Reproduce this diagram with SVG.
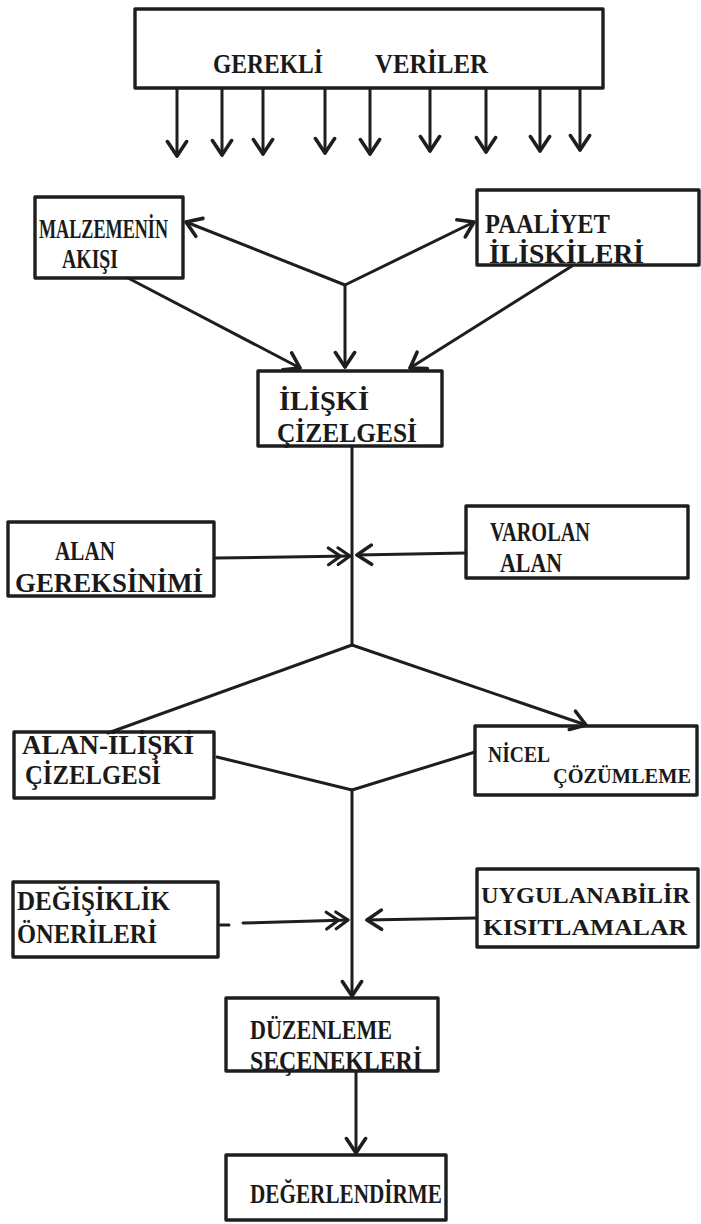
<svg xmlns="http://www.w3.org/2000/svg" width="701" height="1224" viewBox="0 0 701 1224">
<style>
.box{fill:none;stroke:#1e1e1e;stroke-width:3.4;stroke-linejoin:round}
.ln{fill:none;stroke:#1e1e1e;stroke-width:3;stroke-linecap:round}
.t{font-family:"Liberation Serif","DejaVu Serif",serif;font-weight:bold;font-size:28px;fill:#1a1a1a}
.s{font-size:23px}
.xs{font-size:21px}
</style>
<defs>
<marker id="ah" markerUnits="userSpaceOnUse" markerWidth="24" markerHeight="24" viewBox="-14 -10 16 20" refX="0" refY="0" orient="auto">
<path d="M-12,-8 L0,0 L-12,8" fill="none" stroke="#1e1e1e" stroke-width="3" stroke-linecap="round" stroke-linejoin="round"/>
</marker>
<marker id="ah2" markerUnits="userSpaceOnUse" markerWidth="30" markerHeight="24" viewBox="-20 -10 22 20" refX="0" refY="0" orient="auto">
<path d="M-10,-7 L0,0 L-10,7 M-18,-7 L-8,0 L-18,7" fill="none" stroke="#1e1e1e" stroke-width="2.6" stroke-linecap="round" stroke-linejoin="round"/>
</marker>
</defs>
<rect width="701" height="1224" fill="#ffffff"/>

<g id="connectors">
<g id="data-arrows" marker-end="url(#ah)">
<line class="ln" x1="177" y1="89" x2="177" y2="156"/>
<line class="ln" x1="222" y1="89" x2="222" y2="155"/>
<line class="ln" x1="263" y1="89" x2="263" y2="154"/>
<line class="ln" x1="325" y1="89" x2="325" y2="153"/>
<line class="ln" x1="370" y1="89" x2="370" y2="154"/>
<line class="ln" x1="430" y1="89" x2="430" y2="151"/>
<line class="ln" x1="486" y1="89" x2="486" y2="152"/>
<line class="ln" x1="540" y1="89" x2="540" y2="151"/>
<line class="ln" x1="580" y1="89" x2="580" y2="150"/>
</g>
<line class="ln" x1="345" y1="285" x2="186" y2="222" marker-end="url(#ah)"/>
<line class="ln" x1="345" y1="285" x2="474" y2="222" marker-end="url(#ah)"/>
<line class="ln" x1="345" y1="285" x2="345" y2="367" marker-end="url(#ah)"/>
<line class="ln" x1="128" y1="278" x2="300" y2="368" marker-end="url(#ah)"/>
<line class="ln" x1="572" y1="266" x2="410" y2="368" marker-end="url(#ah)"/>
<line class="ln" x1="352" y1="446" x2="352" y2="645"/>
<line class="ln" x1="216" y1="558" x2="350" y2="556" marker-end="url(#ah2)"/>
<line class="ln" x1="466" y1="553" x2="357" y2="555" marker-end="url(#ah)"/>
<line class="ln" x1="352" y1="645" x2="108" y2="733"/>
<line class="ln" x1="352" y1="645" x2="586" y2="725" marker-end="url(#ah)"/>
<line class="ln" x1="217" y1="757" x2="352" y2="790"/>
<line class="ln" x1="475" y1="752" x2="352" y2="790"/>
<line class="ln" x1="352" y1="790" x2="352" y2="996" marker-end="url(#ah)"/>
<line class="ln" x1="220" y1="925" x2="229" y2="925"/>
<line class="ln" x1="243" y1="923" x2="348" y2="920" marker-end="url(#ah2)"/>
<line class="ln" x1="476" y1="918" x2="367" y2="920" marker-end="url(#ah)"/>
<line class="ln" x1="356" y1="1072" x2="356" y2="1153" stroke-width="4" marker-end="url(#ah)"/>
</g>

<g id="gerekli-veriler">
<rect class="box" x="135" y="9" width="468" height="79"/>
<text class="t" x="213" y="73" textLength="110" lengthAdjust="spacingAndGlyphs">GEREKLİ</text>
<text class="t" x="375" y="73" textLength="113" lengthAdjust="spacingAndGlyphs">VERİLER</text>
</g>

<g id="malzemenin-akisi">
<rect class="box" x="35" y="197" width="148" height="81"/>
<text class="t" x="39" y="238" textLength="129" lengthAdjust="spacingAndGlyphs">MALZEMENİN</text>
<text class="t" x="62" y="268" textLength="56" lengthAdjust="spacingAndGlyphs">AKIŞI</text>
</g>

<g id="faaliyet-iliskileri">
<rect class="box" x="477" y="190" width="222" height="75"/>
<text class="t" x="485" y="233" textLength="125" lengthAdjust="spacingAndGlyphs">PAALİYET</text>
<text class="t" x="489" y="263" textLength="155" lengthAdjust="spacingAndGlyphs">İLİSKİLERİ</text>
</g>

<g id="iliski-cizelgesi">
<rect class="box" x="258" y="371" width="184" height="75"/>
<text class="t" x="279" y="410" textLength="90" lengthAdjust="spacingAndGlyphs">İLİŞKİ</text>
<text class="t" x="277" y="442" textLength="140" lengthAdjust="spacingAndGlyphs">ÇİZELGESİ</text>
</g>

<g id="alan-gereksinimi">
<rect class="box" x="8" y="522" width="206" height="74"/>
<text class="t" x="55" y="560" textLength="60" lengthAdjust="spacingAndGlyphs">ALAN</text>
<text class="t" x="15" y="592" textLength="188" lengthAdjust="spacingAndGlyphs">GEREKSİNİMİ</text>
</g>

<g id="varolan-alan">
<rect class="box" x="466" y="506" width="222" height="72"/>
<text class="t" x="490" y="541" textLength="100" lengthAdjust="spacingAndGlyphs">VAROLAN</text>
<text class="t" x="500" y="572" textLength="62" lengthAdjust="spacingAndGlyphs">ALAN</text>
</g>

<g id="alan-iliski-cizelgesi">
<rect class="box" x="14" y="732" width="200" height="66"/>
<text class="t" x="22" y="754" textLength="172" lengthAdjust="spacingAndGlyphs">ALAN-İLİŞKİ</text>
<text class="t" x="25" y="784" textLength="136" lengthAdjust="spacingAndGlyphs">ÇİZELGESİ</text>
</g>

<g id="nicel-cozumleme">
<rect class="box" x="475" y="726" width="222" height="69"/>
<text class="t s" x="488" y="762" textLength="62" lengthAdjust="spacingAndGlyphs">NİCEL</text>
<text class="t xs" x="553" y="783" textLength="138" lengthAdjust="spacingAndGlyphs">ÇÖZÜMLEME</text>
</g>

<g id="degisiklik-onerileri">
<rect class="box" x="13" y="882" width="205" height="75"/>
<text class="t" x="17" y="910" textLength="153" lengthAdjust="spacingAndGlyphs">DEĞİŞİKLİK</text>
<text class="t" x="17" y="943" textLength="140" lengthAdjust="spacingAndGlyphs">ÖNERİLERİ</text>
</g>

<g id="uygulanabilir-kisitlamalar">
<rect class="box" x="477" y="869" width="221" height="78"/>
<text class="t s" x="481" y="903" textLength="209" lengthAdjust="spacingAndGlyphs">UYGULANABİLİR</text>
<text class="t s" x="483" y="935" textLength="204" lengthAdjust="spacingAndGlyphs">KISITLAMALAR</text>
</g>

<g id="duzenleme-secenekleri">
<rect class="box" x="226" y="998" width="212" height="73"/>
<text class="t" x="250" y="1039" textLength="142" lengthAdjust="spacingAndGlyphs">DÜZENLEME</text>
<text class="t" x="250" y="1070" textLength="172" lengthAdjust="spacingAndGlyphs">SEÇENEKLERİ</text>
</g>

<g id="degerlendirme">
<rect class="box" x="226" y="1155" width="220" height="65"/>
<text class="t" x="250" y="1203" textLength="192" lengthAdjust="spacingAndGlyphs">DEĞERLENDİRME</text>
</g>
</svg>
